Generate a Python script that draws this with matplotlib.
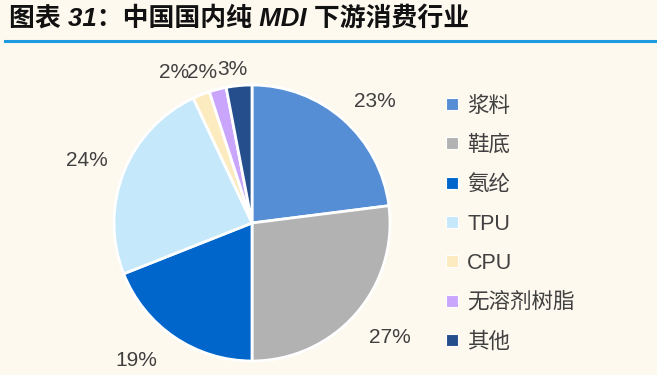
import matplotlib
matplotlib.use("Agg")
import matplotlib.pyplot as plt
from matplotlib.lines import Line2D
import numpy as np

plt.rcParams['font.family'] = ['Liberation Sans', 'Noto Sans CJK SC', 'DejaVu Sans']

categories = ['浆料', '鞋底', '氨纶', 'TPU', 'CPU', '无溶剂树脂', '其他']
values = [23, 27, 19, 24, 2, 2, 3]
colors = ['#558ED5', '#B2B2B2', '#0066CC', '#C5E8FB', '#FDEBC0', '#C9A6FC', '#254F8C']
title = '图表 31：中国国内纯 MDI 下游消费行业'

bg = '#FEF9EF'
W, H = 657, 375
fig = plt.figure(figsize=(W / 100, H / 100), dpi=100, facecolor=bg)

# title and rule
fig.text(9 / W, 1 - 18 / H, title, fontsize=18.6, fontweight='bold', fontstyle='italic',
         color='#111111', va='center', ha='left')
fig.add_artist(Line2D([5 / W, 1.0], [1 - 40.5 / H, 1 - 40.5 / H], color='#1E9BE0', lw=2.2))

# pie axes
cx, cy, r = 252, 223, 138
ax = fig.add_axes([(cx - r) / W, (H - cy - r) / H, 2 * r / W, 2 * r / H])
ax.set_facecolor(bg)
wedges, _ = ax.pie(values, colors=colors, startangle=90, counterclock=False,
                   wedgeprops=dict(edgecolor='white', linewidth=2))
ax.set_xlim(-1, 1)
ax.set_ylim(-1, 1)
ax.set_aspect('equal')
ax.axis('off')

label_r = [1.255, 1.30, 1.30, 1.28, 1.23, 1.15, 1.12]
label_shift = [-4, 1.7, -6, 1, 5.6, 4, 2]
total = sum(values)
for w, v, d, s in zip(wedges, values, label_r, label_shift):
    ang = np.deg2rad((w.theta1 + w.theta2) / 2 + s)
    ax.text(d * np.cos(ang), d * np.sin(ang), f'{round(v / total * 100)}%',
            ha='center', va='center', fontsize=15, color='#404040', clip_on=False)

handles = [Line2D([0], [0], marker='s', linestyle='none', markersize=8,
                  markerfacecolor=c, markeredgecolor='white', markeredgewidth=0.8)
           for c in colors]
fig.legend(handles, categories, loc='upper left', bbox_to_anchor=(436 / W, 1 - 87 / H),
           frameon=False, fontsize=15.5, labelcolor='#404040', handlelength=0.7,
           handletextpad=0.35, labelspacing=0.85, borderaxespad=0)

fig.savefig('out.png', dpi=100, facecolor=bg)
